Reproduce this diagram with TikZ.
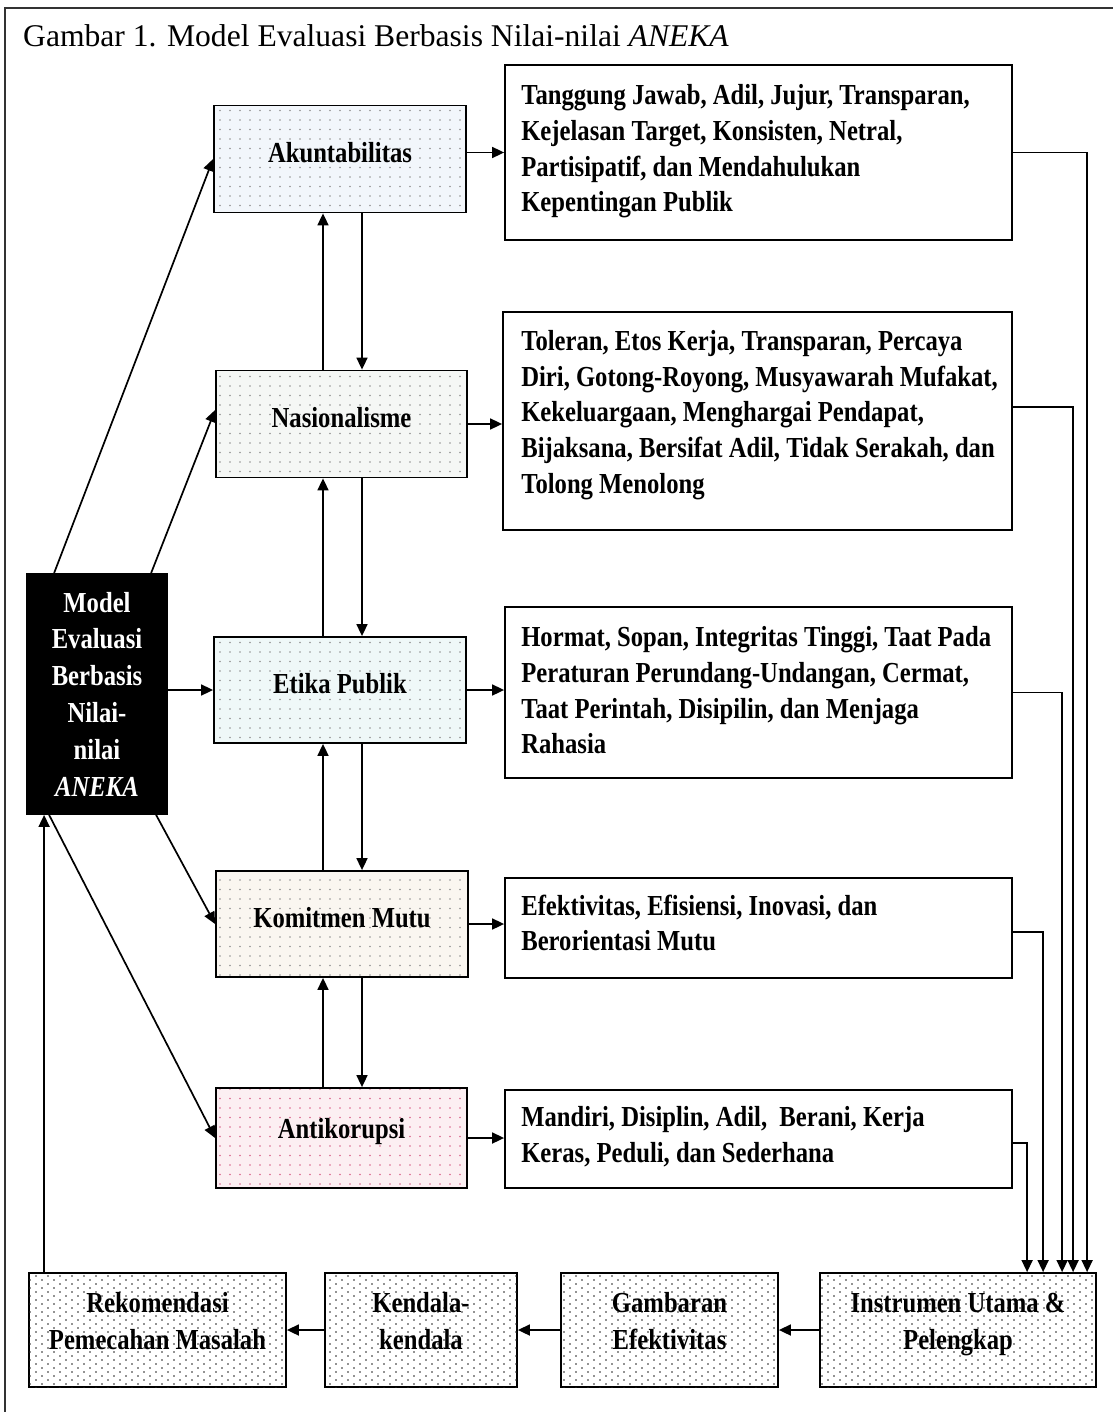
\documentclass[tikz,border=0pt]{standalone}
\usepackage{fontspec}
\setmainfont{Liberation Serif}
\newfontfamily\bx{Liberation Serif}[FakeStretch=0.85]
\usetikzlibrary{arrows.meta,calc,patterns.meta}

\tikzdeclarepattern{
  name=middots,
  type=uncolored,
  bottom left={(-1pt,-1pt)},
  top right={(1pt,1pt)},
  tile size={(10pt,9.5pt)},
  code={\fill (0pt,0pt) circle (0.85pt);}
}
\tikzdeclarepattern{
  name=botdots,
  type=uncolored,
  bottom left={(-1pt,-1pt)},
  top right={(7pt,5pt)},
  tile size={(12pt,8pt)},
  code={\fill (0pt,0pt) circle (0.9pt); \fill (6pt,4pt) circle (0.9pt);}
}

\definecolor{akfill}{HTML}{F2F6FB}
\definecolor{nafill}{HTML}{F5F7F5}
\definecolor{etfill}{HTML}{EFF8F8}
\definecolor{kmfill}{HTML}{FAF6F0}
\definecolor{anfill}{HTML}{FCEFF2}

\newcommand\upone[1]{\raisebox{6pt}[\height][\depth]{#1}}
\newcommand\uptwo[2]{\raisebox{6pt}[\height][\depth]{\begin{tabular}{@{}c@{}}#1\\#2\end{tabular}}}

\begin{document}
\begin{tikzpicture}[x=1pt,y=-1pt,
  >={Triangle[length=12pt,width=11pt]},
  box/.style={draw=black, line width=1.8pt, rectangle, inner sep=0pt, align=center,
    font=\bx\bfseries\fontsize{29}{36}\selectfont},
  mid/.style={box, preaction={fill=#1}, pattern=middots, pattern color=gray!85, minimum width=252, minimum height=107},
  rbox/.style={box, fill=white, minimum width=507, minimum height=#1},
  rtext/.style={anchor=west, inner sep=0pt, align=left, font=\bx\bfseries\fontsize{29}{35.7}\selectfont},
  bbox/.style={box, fill=white, postaction={pattern=botdots, pattern color=black!85}, minimum height=114,
    font=\bx\bfseries\fontsize{29}{37}\selectfont},
  blk/.style={box, fill=black, text=white, minimum width=140, minimum height=240,
    font=\bx\bfseries\fontsize{29}{36.8}\selectfont},
  conn/.style={line width=1.7pt, ->},
  thin/.style={line width=1.5pt, ->}
]
\useasboundingbox (0,0) rectangle (1113,1412);
\fill[white] (0,0) rectangle (1113,1412);
\draw[line width=1.2pt, black!80] (5,1412) -- (5,8) -- (1113,8);

\node[anchor=base west, inner sep=0pt, font=\fontsize{31.6}{36}\selectfont] (title) at (23,47)
  {Gambar 1. Model Evaluasi Berbasis Nilai-nilai \textit{ANEKA}};

% black box
\node[blk] (bk) at (97,694) {Model\\Evaluasi\\Berbasis\\Nilai-\\nilai\\\textit{ANEKA}};

% middle boxes
\node[mid=akfill] (ak) at (340,159) {\upone{Akuntabilitas}};
\node[mid=nafill, minimum width=251] (na) at (341.5,424) {\upone{Nasionalisme}};
\node[mid=etfill, minimum height=106] (et) at (340,690) {\upone{Etika Publik}};
\node[mid=kmfill, minimum height=106] (km) at (342,924) {\upone{Komitmen Mutu}};
\node[mid=anfill, minimum width=251, minimum height=100, pattern color=purple!60] (an) at (341.5,1138) {\upone{Antikorupsi}};

% right boxes
\node[rbox=175] (t1) at (758.5,152.5) {};
\node[rtext] (t1x) at ($(t1.west)+(17,-1)$) {Tanggung Jawab, Adil, Jujur, Transparan,\\Kejelasan Target, Konsisten, Netral,\\Partisipatif, dan Mendahulukan\\Kepentingan Publik};
\node[rbox=218, minimum width=509] (t2) at (757.5,421) {};
\node[rtext] (t2x) at ($(t2.west)+(19,-6)$) {Toleran, Etos Kerja, Transparan, Percaya\\Diri, Gotong-Royong, Musyawarah Mufakat,\\Kekeluargaan, Menghargai Pendapat,\\Bijaksana, Bersifat Adil, Tidak Serakah, dan\\Tolong Menolong};
\node[rbox=171] (t3) at (758.5,692.5) {};
\node[rtext] (t3x) at ($(t3.west)+(17,-2)$) {Hormat, Sopan, Integritas Tinggi, Taat Pada\\Peraturan Perundang-Undangan, Cermat,\\Taat Perintah, Disipilin, dan Menjaga\\Rahasia};
\node[rbox=100] (t4) at (758.5,928) {};
\node[rtext] (t4x) at ($(t4.west)+(17,-5)$) {Efektivitas, Efisiensi, Inovasi, dan\\Berorientasi Mutu};
\node[rbox=98] (t5) at (758.5,1139) {};
\node[rtext] (t5x) at ($(t5.west)+(17,-2)$) {Mandiri, Disiplin, Adil,\ \ Berani, Kerja\\Keras, Peduli, dan Sederhana};

% bottom boxes
\node[bbox, minimum width=276] (in) at (958,1330) {\uptwo{Instrumen Utama \&}{Pelengkap}};
\node[bbox, minimum width=217] (gb) at (669.5,1330) {\uptwo{Gambaran}{Efektivitas}};
\node[bbox, minimum width=192] (kd) at (421,1330) {\uptwo{Kendala-}{kendala}};
\node[bbox, minimum width=257] (rk) at (157.5,1330) {\uptwo{Rekomendasi}{Pemecahan Masalah}};

% black box to middle boxes
\draw[conn] ($(bk.north west)+(28,0)$) -- (ak.west);
\draw[conn] ($(bk.north west)+(125,0)$) -- ($(na.west)+(0,-14)$);
\draw[conn] (bk.east |- et.west) -- (et.west);
\draw[conn] ($(bk.south west)+(130,0)$) -- (km.west);
\draw[conn] ($(bk.south west)+(23,0)$) -- (an.west);

% middle vertical pairs
\coordinate (upx) at (323,0);
\coordinate (dnx) at (362,0);
\draw[conn] (na.north -| upx) -- (ak.south -| upx);
\draw[conn] (ak.south -| dnx) -- (na.north -| dnx);
\draw[conn] (et.north -| upx) -- (na.south -| upx);
\draw[conn] (na.south -| dnx) -- (et.north -| dnx);
\draw[conn] (km.north -| upx) -- (et.south -| upx);
\draw[conn] (et.south -| dnx) -- (km.north -| dnx);
\draw[conn] (an.north -| upx) -- (km.south -| upx);
\draw[conn] (km.south -| dnx) -- (an.north -| dnx);

% middle to right boxes
\draw[conn] (ak.east |- t1.west) -- (t1.west);
\draw[conn] (na.east) -- (na.east -| t2.west);
\draw[conn] (et.east) -- (et.east -| t3.west);
\draw[conn] (km.east) -- (km.east -| t4.west);
\draw[conn] (an.east) -- (an.east -| t5.west);

% right boxes down to instrumen
\draw[thin] (t1.east) -| ($(in.north west)+(268,0)$);
\draw[thin] ($(t2.east)+(0,-14)$) -| ($(in.north west)+(254,0)$);
\draw[thin] (t3.east) -| ($(in.north west)+(243,0)$);
\draw[thin] ($(t4.east)+(0,4)$) -| ($(in.north west)+(224,0)$);
\draw[thin] ($(t5.east)+(0,4)$) -| ($(in.north west)+(208,0)$);

% bottom row
\draw[conn] (in.west) -- (gb.east);
\draw[conn] (gb.west) -- (kd.east);
\draw[conn] (kd.west) -- (rk.east);
\coordinate (rkup) at ($(rk.north west)+(16,0)$);
\draw[conn] (rkup) -- (rkup |- bk.south);
\end{tikzpicture}
\end{document}
